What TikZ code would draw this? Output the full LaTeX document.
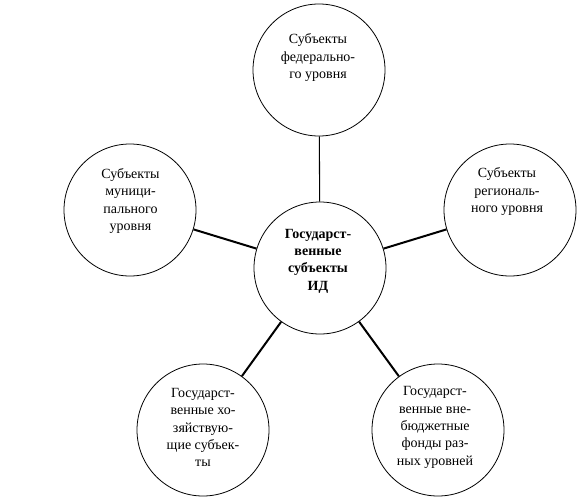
\documentclass[tikz,border=0pt]{standalone}
\usepackage{fontspec}
\setmainfont{Liberation Serif}
\begin{document}
\begin{tikzpicture}[
  x=0.75pt, y=-0.75pt,
  ring/.style = {
    circle, draw, line width=0.6pt,
    minimum size=99pt, inner sep=0pt
  },
  txt/.style = {align=center, inner sep=0pt,
    font=\fontsize{10.5}{13}\selectfont},
  link/.style = {line width=1.5pt},
  thinlink/.style = {line width=0.8pt}
]
  \useasboundingbox (0,0) rectangle (588,503);

  \node[ring] (ids) at (320,268) {};
  \node[ring] (fed) at (319,70)  {};
  \node[ring] (mun) at (130,210) {};
  \node[ring] (reg) at (510,210) {};
  \node[ring] (hoz) at (203,430) {};
  \node[ring] (fnd) at (438,430) {};

  \node[txt, font=\fontsize{10.5}{13}\selectfont\bfseries] (idstxt) at (318,261)
    {Государст-\\венные\\субъекты\\ИД};
  \node[txt] (fedtxt) at (318,57.5)  {Субъекты\\федерально-\\го уровня};
  \node[txt] (muntxt) at (130.5,201) {Субъекты\\муници-\\пального\\уровня};
  \node[txt] (regtxt) at (507,191.5) {Субъекты\\региональ-\\ного уровня};
  \node[txt] (hoztxt) at (203,427.5) {Государст-\\венные хо-\\зяйствую-\\щие субъек-\\ты};
  \node[txt] (fndtxt) at (435,427.5) {Государст-\\венные вне-\\бюджетные\\фонды раз-\\ных уровней};

  \draw[thinlink] (ids) -- (fed);
  \draw[link] (ids) -- (mun);
  \draw[link] (ids) -- (reg);
  \draw[link] (ids) -- (hoz);
  \draw[link] (ids) -- (fnd);
\end{tikzpicture}
\end{document}
